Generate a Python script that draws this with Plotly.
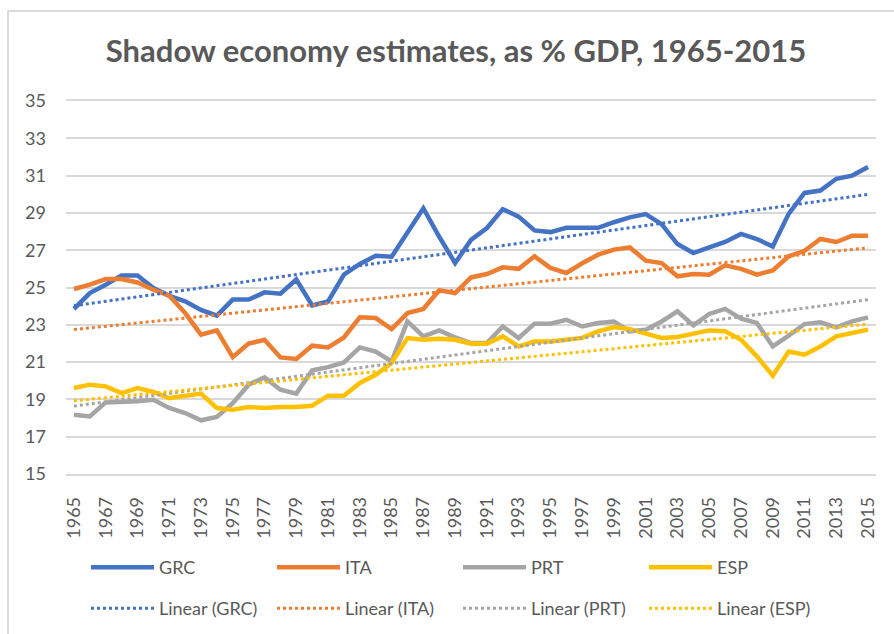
import numpy as np
import plotly.graph_objects as go

years = list(range(1965, 2016))

grc = [23.85, 24.7, 25.15, 25.65, 25.65, 24.97, 24.55, 24.26, 23.8, 23.49,
       24.35, 24.35, 24.74, 24.67, 25.43, 24.04, 24.25, 25.69, 26.26, 26.7,
       26.65, 28.0, 29.25, 27.72, 26.31, 27.55, 28.19, 29.2, 28.8, 28.06,
       27.97, 28.2, 28.2, 28.2, 28.5, 28.76, 28.94, 28.4, 27.33, 26.85,
       27.15, 27.44, 27.87, 27.6, 27.2, 28.95, 30.07, 30.2, 30.83, 31.0,
       31.46]

ita = [24.92, 25.15, 25.45, 25.45, 25.27, 24.88, 24.56, 23.63, 22.47, 22.7,
       21.27, 21.99, 22.2, 21.25, 21.17, 21.88, 21.79, 22.32, 23.4, 23.36,
       22.77, 23.63, 23.85, 24.85, 24.7, 25.54, 25.72, 26.08, 26.0, 26.67,
       26.05, 25.78, 26.3, 26.76, 27.03, 27.15, 26.44, 26.31, 25.6, 25.72,
       25.69, 26.19, 26.0, 25.69, 25.92, 26.67, 26.97, 27.6, 27.44, 27.78,
       27.78]

prt = [18.18, 18.09, 18.84, 18.84, 18.9, 18.98, 18.54, 18.27, 17.88, 18.06,
       18.8, 19.79, 20.18, 19.52, 19.31, 20.56, 20.73, 20.98, 21.79, 21.57,
       21.04, 23.18, 22.38, 22.7, 22.32, 22.02, 22.02, 22.91, 22.29, 23.06,
       23.06, 23.27, 22.91, 23.1, 23.18, 22.65, 22.74, 23.18, 23.72, 22.97,
       23.58, 23.85, 23.33, 23.1, 21.84, 22.42, 23.04, 23.13, 22.86, 23.18,
       23.4]

esp = [19.61, 19.79, 19.7, 19.34, 19.61, 19.4, 19.07, 19.16, 19.31, 18.54,
       18.45, 18.59, 18.54, 18.59, 18.59, 18.66, 19.2, 19.2, 19.88, 20.32,
       20.95, 22.29, 22.2, 22.25, 22.2, 21.99, 21.99, 22.38, 21.84, 22.11,
       22.11, 22.2, 22.3, 22.65, 22.88, 22.77, 22.52, 22.29, 22.35, 22.52,
       22.7, 22.65, 22.2, 21.31, 20.27, 21.57, 21.4, 21.84, 22.38, 22.56,
       22.74]

series_names = ["GRC", "ITA", "PRT", "ESP"]
series_values = [grc, ita, prt, esp]
colors = ["#4472C4", "#ED7D31", "#A5A5A5", "#FFC000"]

x_tick_labels = [str(y) for y in range(1965, 2016, 2)]
y_tick_labels = [str(v) for v in range(15, 36, 2)]

title_text = "Shadow economy estimates, as % GDP, 1965-2015"

FONT = "Lato"
TXT = "#595959"
GRID = "#D9D9D9"

fig = go.Figure()

yrs = np.array(years, dtype=float)
for name, vals, col in zip(series_names, series_values, colors):
    fig.add_trace(go.Scatter(
        x=years, y=vals, mode="lines", name=name,
        line=dict(color=col, width=4.5), legend="legend",
    ))

for name, vals, col in zip(series_names, series_values, colors):
    slope, icpt = np.polyfit(yrs, np.array(vals), 1)
    fig.add_trace(go.Scatter(
        x=years, y=list(slope * yrs + icpt), mode="lines",
        name=f"Linear ({name})",
        line=dict(color=col, width=3, dash="dot"), legend="legend2",
    ))

W, H = 894, 634
L, R, T, B = 66, 18, 101, 160
pw = W - L - R
ph = H - T - B


def px_x(p):
    return (p - L) / pw


def px_y(p):
    return (H - B - p) / ph


fig.add_shape(type="rect", xref="paper", yref="paper",
              x0=px_x(8), x1=px_x(910), y0=px_y(650), y1=px_y(11),
              line=dict(color="#D0D0D0", width=1.5),
              fillcolor="rgba(0,0,0,0)", layer="above")

legend_common = dict(orientation="h", xanchor="left", yanchor="top",
                     entrywidth=108, entrywidthmode="pixels", itemwidth=63,
                     font=dict(family=FONT, size=18, color=TXT),
                     bgcolor="rgba(0,0,0,0)", traceorder="normal")

fig.update_layout(
    width=W, height=H,
    margin=dict(l=L, r=R, t=T, b=B, pad=0, autoexpand=False),
    paper_bgcolor="white", plot_bgcolor="white",
    font=dict(family=FONT, color=TXT, size=18),
    title=dict(text=title_text, xref="container", yref="container",
               x=456 / W, y=1 - 51 / H, xanchor="center", yanchor="middle",
               font=dict(family=FONT, size=31, color=TXT, weight="bold")),
    showlegend=True,
    legend=dict(x=px_x(86), y=px_y(549), **legend_common),
    legend2=dict(x=px_x(86), y=px_y(590), **legend_common),
    xaxis=dict(range=[1964.5, 2015.5], automargin=False,
               tickvals=list(range(1965, 2016, 2)), ticktext=x_tick_labels,
               tickangle=-90, showgrid=False, zeroline=False,
               showline=True, linecolor=GRID, linewidth=1.5, mirror=True,
               ticks="", ticklabelstandoff=14,
               tickfont=dict(family=FONT, size=18, color=TXT)),
    yaxis=dict(range=[15, 35], tickvals=list(range(15, 36, 2)),
               ticktext=y_tick_labels, automargin=False,
               showgrid=True, gridcolor=GRID, gridwidth=1.5,
               zeroline=False, showline=False, ticks="",
               ticklabelstandoff=19,
               tickfont=dict(family=FONT, size=18, color=TXT)),
)

fig.write_html("out.html",
               config={"displayModeBar": False},
               post_script="document.body.style.margin='0';"
                           "document.body.style.overflow='hidden';")
